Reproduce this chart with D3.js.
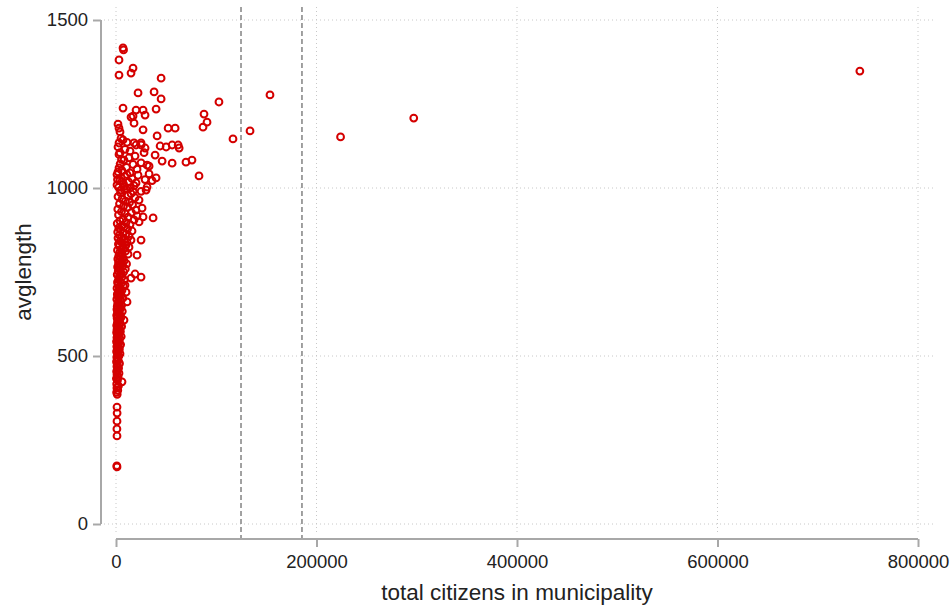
<!DOCTYPE html>
<html lang="en">
<head>
<meta charset="UTF-8">
<title>avglength vs citizens</title>
<script src="https://cdnjs.cloudflare.com/ajax/libs/d3/7.8.5/d3.min.js"></script>
<style>
  body { margin: 0; background: #fff; }
  text { font-family: "Liberation Sans", Arial, sans-serif; fill: #222; }
</style>
</head>
<body>
<svg width="950" height="608"></svg>
<script>
"use strict";

// [total citizens, avglength]
const largeCities = [
  [742000,1348],[297000,1208],[224000,1152],[153600,1277],[133700,1170],[116700,1146],
  [102700,1256],[90800,1196],[87800,1220],[86800,1181],[82800,1036],[75800,1083],
  [69800,1077],[59000,1178],[52000,1178],[44000,1125],[50000,1122],[56000,1128],
  [62000,1128],[63000,1119],[46000,1080],[56000,1074],[40000,1235],[45000,1327],
  [45000,1265],[38000,1286],[41000,1155],[39000,1098]
];

const upperCluster = [
  [7000,1417],[7500,1411],[3000,1381],[17000,1357],[15000,1342],[3000,1336],[22000,1283],
  [7000,1238],[20000,1232],[27000,1232],[29000,1217],[15000,1211],[17000,1214],[18000,1193],
  [27000,1173],[2000,1190],[3000,1178],[4000,1167],[7000,1143],[18000,1134],[25000,1134],
  [3000,1134],[11000,1136],[20000,1128],[25000,1128],[29000,1119],[5000,1148],[2000,1122],
  [9000,1115],[14000,1110],[4000,1105],[19000,1095],[13000,1090],[3000,1100],[8000,1083],
  [28000,1105],[31000,1068],[33000,1065],[10500,1061],[17000,1070],[4200,1072],[25000,1075],
  [21000,1056],[6000,1052],[2000,1048],[14000,1045],[33000,1042],[22000,1038],[40000,1030],
  [36000,1022],[9000,1034],[29000,1025],[16000,1028],[3800,1022],[12500,1018],[20000,1015],
  [1000,1009],[7500,1012],[18000,1007],[31000,1003],[30000,994],[25000,990],[2600,1002],
  [10000,998],[5000,994],[1000,1040],[3000,1060],[5500,1085],[1500,1025],[11000,1040],
  [6000,1020],[14000,1000],[8000,1005]
];

const midCluster = [
  [2400,833],[6500,836],[11000,839],[4200,842],[15000,845],[25000,845],[8500,848],[2000,851],
  [5800,854],[13000,857],[3500,860],[9800,863],[7000,866],[1700,869],[16000,872],[4800,875],
  [11500,878],[2800,881],[8000,884],[6000,888],[14000,891],[1200,894],[23000,899],[10000,897],
  [4000,902],[18000,905],[7000,908],[27000,914],[37000,911],[21000,917],[12000,913],[2500,920],
  [9000,924],[15500,927],[5500,930],[20000,934],[1800,937],[26000,940],[11500,943],[7500,946],
  [16500,950],[3500,953],[13500,957],[23000,964],[9500,961],[6000,967],[19000,971],[2000,974],
  [12000,978],[15000,983],[4500,986],[17000,990],[8500,995],
  [1000,702],[9000,711],[3200,705],[7300,708],[2000,714],[5300,717],[1500,720],[4000,723],
  [8200,726],[2700,729],[15000,732],[25000,735],[6200,736],[19000,744],[3500,739],[1200,742],
  [5000,747],[7600,750],[2200,753],[4300,756],[9300,759],[3000,762],[1600,765],[6700,768],
  [4000,771],[10500,774],[2500,777],[5600,780],[8000,783],[3600,786],[1800,789],[7000,792],
  [4800,795],[21000,800],[2800,798],[12000,803],[6000,806],[3900,809],[9500,812],[1500,815],
  [5200,818],[13000,824],[7700,821],[3300,827],[10000,830]
];

const lowerCluster = [
  [1900,504],[4000,507],[1100,510],[600,514],[2700,517],[3400,521],[1500,524],[800,528],
  [2100,531],[4600,534],[1200,537],[3000,540],[500,543],[2400,546],[1700,549],[3800,552],
  [900,555],[5200,558],[2000,561],[1300,564],[3200,567],[600,570],[4400,573],[2600,576],
  [1000,579],[3600,582],[1800,585],[5600,588],[700,591],[2900,594],[4200,597],[1400,600],
  [8000,607],[2300,603],[3300,609],[1100,612],[5000,615],[2000,618],[700,621],[3900,624],
  [2700,627],[1500,630],[6300,633],[3100,636],[900,639],[4700,642],[2200,645],[1200,648],
  [5600,651],[3500,654],[1700,657],[11000,661],[2500,663],[4300,666],[800,669],[6800,672],
  [3000,675],[1900,678],[5100,681],[1300,684],[3800,687],[10000,690],[2400,693],[6000,696],
  [4500,699],
  [1200,386],[600,392],[1800,398],[900,405],[2400,411],[700,417],[6000,423],[1500,428],
  [400,433],[2100,438],[1000,444],[3000,449],[600,454],[1700,459],[2600,464],[900,469],
  [1300,474],[3500,478],[500,483],[2200,487],[1500,492],[800,496],[2900,500],
  [1000,348],[1100,330],[1000,306],[900,283],[1000,262],[800,173],[1000,170]
];

const xTicks = [0, 200000, 400000, 600000, 800000];
const yTicks = [0, 500, 1000, 1500];
const cutoffs = [124700, 185500];

const svg = d3.select("svg");
const x = d3.scaleLinear().domain([0, 800000]).range([116, 918]);
const y = d3.scaleLinear().domain([0, 1500]).range([524, 20]);

const gridColor = "#c8c8c8";
const axisColor = "#a8a8a8";

// grid
svg.append("g").selectAll("line").data(yTicks).enter().append("line")
  .attr("x1", 104).attr("x2", 933)
  .attr("y1", d => y(d)).attr("y2", d => y(d))
  .attr("stroke", gridColor).attr("stroke-width", 1).attr("stroke-dasharray", "1,3");
svg.append("g").selectAll("line").data(xTicks).enter().append("line")
  .attr("x1", d => x(d)).attr("x2", d => x(d))
  .attr("y1", 7).attr("y2", 532)
  .attr("stroke", gridColor).attr("stroke-width", 1).attr("stroke-dasharray", "1,3");

// cutoff lines
svg.append("g").selectAll("line").data(cutoffs).enter().append("line")
  .attr("x1", d => x(d)).attr("x2", d => x(d))
  .attr("y1", 7).attr("y2", 539)
  .attr("stroke", "#8a8a8a").attr("stroke-width", 1.6).attr("stroke-dasharray", "5,3");

// y axis
const yAxis = svg.append("g")
  .attr("transform", "translate(101,0)")
  .call(d3.axisLeft(y).tickValues(yTicks).tickFormat(d3.format("d")).tickSize(8).tickPadding(5).tickSizeOuter(0));
yAxis.select(".domain").attr("stroke", axisColor).attr("stroke-width", 2)
  .attr("d", `M0,${y(0)}V${y(1500)}`);
yAxis.selectAll(".tick line").attr("stroke", axisColor).attr("stroke-width", 2);
yAxis.selectAll(".tick text").attr("font-size", 18.5).attr("fill", "#222")
  .attr("font-family", "Liberation Sans, Arial, sans-serif");

// x axis
const xAxis = svg.append("g")
  .attr("transform", "translate(0,539)")
  .call(d3.axisBottom(x).tickValues(xTicks).tickFormat(d3.format("d")).tickSize(8).tickPadding(8).tickSizeOuter(0));
xAxis.select(".domain").attr("stroke", axisColor).attr("stroke-width", 2)
  .attr("d", `M${x(0)},0H${x(800000)}`);
xAxis.selectAll(".tick line").attr("stroke", axisColor).attr("stroke-width", 2);
xAxis.selectAll(".tick text").attr("font-size", 18.5).attr("fill", "#222")
  .attr("font-family", "Liberation Sans, Arial, sans-serif");

// points
const allPoints = largeCities.concat(upperCluster, midCluster, lowerCluster);
svg.append("g").selectAll("circle").data(allPoints).enter().append("circle")
  .attr("cx", d => x(d[0])).attr("cy", d => y(d[1])).attr("r", 3.4)
  .attr("fill", "none").attr("stroke", "#d40000").attr("stroke-width", 2);

// titles
svg.append("text").attr("x", 517).attr("y", 600).attr("text-anchor", "middle")
  .attr("font-size", 22.5).text("total citizens in municipality");
svg.append("text").attr("transform", "translate(31,272) rotate(-90)").attr("text-anchor", "middle")
  .attr("font-size", 22.5).text("avglength");
</script>
</body>
</html>
